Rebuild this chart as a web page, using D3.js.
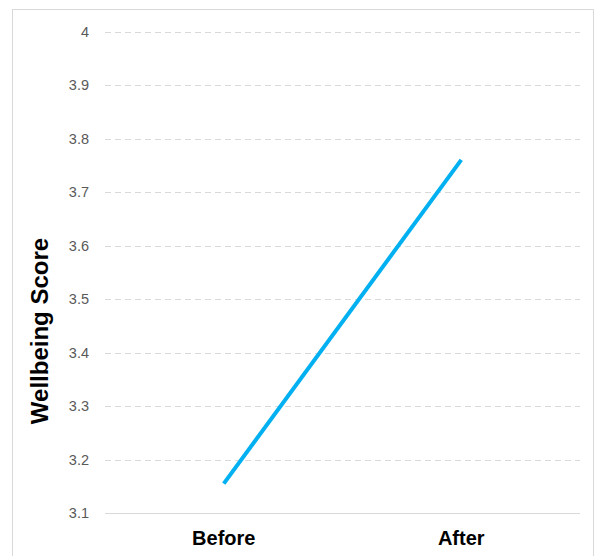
<!DOCTYPE html>
<html><head><meta charset="utf-8">
<script src="https://cdn.jsdelivr.net/npm/d3@7"></script>
<style>body{margin:0;background:#fff}svg{display:block}</style>
</head><body>
<script>
const categories = ["Before", "After"];
const scores = [3.155, 3.76];
const yTicks = [3.1, 3.2, 3.3, 3.4, 3.5, 3.6, 3.7, 3.8, 3.9, 4];
const yTitle = "Wellbeing Score";

const W = 600, H = 556;
const svg = d3.select("body").append("svg").attr("width", W).attr("height", H);

svg.append("rect").attr("x", 12.5).attr("y", 9.5).attr("width", 581).attr("height", 560)
  .attr("fill", "#fff").attr("stroke", "#d9d9d9").attr("stroke-width", 1);

const x = d3.scaleBand().domain(categories).range([105, 580]);
const y = d3.scaleLinear().domain([3.1, 4]).range([513, 31.5]);

// gridlines
svg.append("g").selectAll("line").data(yTicks.filter(d => d > 3.1)).join("line")
  .attr("x1", 105).attr("x2", 580)
  .attr("y1", d => Math.round(y(d)) + 0.5).attr("y2", d => Math.round(y(d)) + 0.5)
  .attr("stroke", "#d9d9d9").attr("stroke-width", 1).attr("stroke-dasharray", "6,4");

// baseline axis
svg.append("line").attr("x1", 105).attr("x2", 580)
  .attr("y1", Math.round(y(3.1)) + 0.5).attr("y2", Math.round(y(3.1)) + 0.5)
  .attr("stroke", "#d9d9d9").attr("stroke-width", 1.2);

// y tick labels
const yAxis = d3.axisLeft(y).tickValues(yTicks).tickSize(0).tickPadding(0)
  .tickFormat(d => d3.format("")(+d.toFixed(1)));
const gy = svg.append("g").attr("transform", "translate(89,0)").call(yAxis);
gy.select(".domain").remove();
gy.selectAll("text").attr("fill", "#595959").style("font-family", "'Liberation Sans', Arial, sans-serif")
  .style("font-size", "14.5px");

// x labels
const xAxis = d3.axisBottom(x).tickSize(0).tickPadding(0);
const gx = svg.append("g").attr("transform", "translate(0,531)").call(xAxis);
gx.select(".domain").remove();
gx.selectAll("text").attr("fill", "#000").style("font-family", "'Liberation Sans', Arial, sans-serif")
  .style("font-size", "20px").style("font-weight", "bold");

// y title
svg.append("text").attr("transform", "translate(48,331) rotate(-90)")
  .attr("text-anchor", "middle").style("font-family", "'Liberation Sans', Arial, sans-serif")
  .style("font-size", "24px").style("font-weight", "bold").attr("fill", "#000").text(yTitle);

// line
const line = d3.line().x((d, i) => x(categories[i]) + x.bandwidth() / 2).y(d => y(d));
svg.append("path").datum(scores).attr("d", line).attr("fill", "none")
  .attr("stroke", "#00B0F0").attr("stroke-width", 4);
</script>
</body></html>
